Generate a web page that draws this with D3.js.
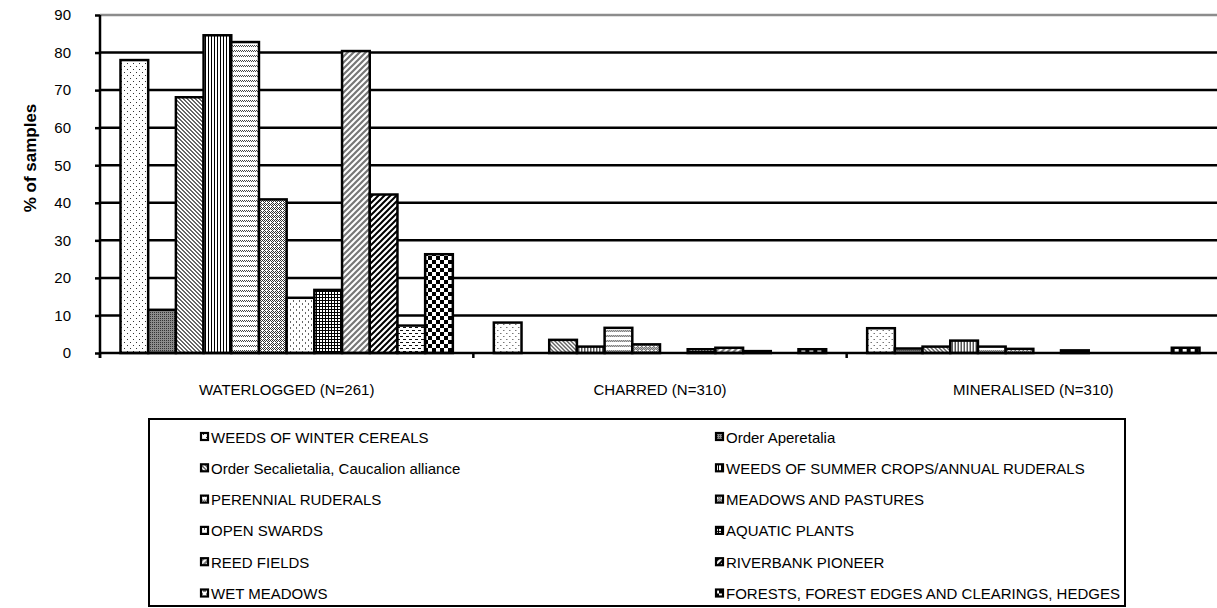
<!DOCTYPE html>
<html>
<head>
<meta charset="utf-8">
<script src="https://cdn.jsdelivr.net/npm/d3@7/dist/d3.min.js"></script>
<style>
  html, body { margin: 0; padding: 0; background: #fff; }
  svg { display: block; }
  text { font-family: "Liberation Sans", Arial, sans-serif; fill: #000; }
</style>
</head>
<body>
<svg id="chart" width="1217" height="608"></svg>
<script>
// Sample types (x categories)
const categories = ["WATERLOGGED (N=261)", "CHARRED (N=310)", "MINERALISED (N=310)"];

// Ecological groups (one bar per group in each category)
const seriesNames = [
  "WEEDS OF WINTER CEREALS",
  "Order Aperetalia",
  "Order Secalietalia, Caucalion alliance",
  "WEEDS OF SUMMER CROPS/ANNUAL RUDERALS",
  "PERENNIAL RUDERALS",
  "MEADOWS AND PASTURES",
  "OPEN SWARDS",
  "AQUATIC PLANTS",
  "REED FIELDS",
  "RIVERBANK PIONEER",
  "WET MEADOWS",
  "FORESTS, FOREST EDGES AND CLEARINGS, HEDGES"
];

// % of samples, per sample type, in the order of seriesNames
const waterlogged = [78.0, 11.5, 68.1, 84.6, 82.8, 40.9, 14.7, 16.8, 80.4, 42.2, 7.3, 26.3];
const charred     = [8.1, 0, 3.5, 1.7, 6.7, 2.3, 0, 1.0, 1.4, 0.5, 0, 1.0];
const mineralised = [6.6, 1.2, 1.7, 3.3, 1.7, 1.1, 0, 0.7, 0, 0, 0, 1.4];

const yTicks = [0, 10, 20, 30, 40, 50, 60, 70, 80, 90];

const values = [waterlogged, charred, mineralised];

const svg = d3.select("#chart");
const defs = svg.append("defs");

// ---- fill patterns (one per ecological group) ----
function pattern(id, w, h, bg, draw) {
  const p = defs.append("pattern")
    .attr("id", id).attr("patternUnits", "userSpaceOnUse")
    .attr("width", w).attr("height", h);
  p.append("rect").attr("width", w).attr("height", h).attr("fill", bg);
  draw(p);
}
function px(p, pts, color) {
  pts.forEach(([x, y, w, h]) => p.append("rect")
    .attr("x", x).attr("y", y).attr("width", w || 1).attr("height", h || 1)
    .attr("fill", color || "#000"));
}
const patternDefs = [
  // sparse dots
  () => pattern("pat0", 6, 6, "#fff", q => px(q, [[0, 0], [3, 3]], "#333")),
  // dark grey fine
  () => pattern("pat1", 2, 2, "#8c8c8c", q => px(q, [[0, 0]], "#333")),
  // fine diagonal hatch
  () => pattern("pat2", 4, 4, "#fff", q => px(q, [[0, 0], [1, 1], [2, 2], [3, 3], [1, 0], [2, 1], [3, 2], [0, 3]], "#666")),
  // vertical lines
  () => pattern("pat3", 3, 3, "#fff", q => px(q, [[0, 0, 1, 3]])),
  // wavy horizontal rows
  () => pattern("pat4", 4, 5, "#fff", q => px(q, [[0, 0], [2, 0], [1, 1], [3, 1]], "#444")),
  // fine checker
  () => pattern("pat5", 4, 4, "#fff", q => px(q, [[0, 0], [2, 0], [1, 1], [3, 1], [0, 2], [1, 3], [3, 3]], "#333")),
  // spaced grey dots
  () => pattern("pat6", 6, 6, "#fff", q => px(q, [[1, 0, 1, 2], [4, 3, 1, 2]], "#666")),
  // small grid
  () => pattern("pat7", 3, 3, "#fff", q => px(q, [[0, 0, 3, 1], [0, 0, 1, 3]])),
  // wide grey diagonals
  () => pattern("pat8", 6, 6, "#fff", q => {
    q.append("path").attr("d", "M-1,7 L7,-1 M-4,4 L4,-4 M2,10 L10,2")
      .attr("stroke", "#777").attr("stroke-width", 2.2);
  }),
  // bold diagonals
  () => pattern("pat9", 6, 6, "#fff", q => {
    q.append("path").attr("d", "M-1,7 L7,-1 M-4,4 L4,-4 M2,10 L10,2")
      .attr("stroke", "#000").attr("stroke-width", 2);
  }),
  // horizontal dashes
  () => pattern("pat10", 6, 6, "#fff", q => px(q, [[0, 0, 3, 1], [3, 3, 3, 1]], "#111")),
  // large checkerboard
  () => pattern("pat11", 8, 8, "#fff", q => px(q, [[0, 0, 4, 4], [4, 4, 4, 4]]))
];
patternDefs.forEach(f => f());
const fillOf = i => `url(#pat${i})`;

// ---- scales ----
const plotLeft = 100, plotRight = 1220, plotTop = 15, plotBottom = 353;

const x0 = d3.scaleBand().domain(categories).range([plotLeft, plotRight]).padding(0);
const x1 = d3.scaleBand().domain(d3.range(seriesNames.length))
  .range([0, x0.bandwidth()]).paddingInner(0).paddingOuter(0.74);
const y = d3.scaleLinear().domain([0, 90]).range([plotBottom, plotTop]);

// ---- gridlines ----
svg.append("g").selectAll("line").data(yTicks.filter(t => t > 0)).join("line")
  .attr("x1", plotLeft).attr("x2", 1217)
  .attr("y1", d => y(d)).attr("y2", d => y(d))
  .attr("stroke", d => d === 90 ? "#8c8c8c" : "#000")
  .attr("stroke-width", 2.5);

// ---- bars ----
const groups = svg.append("g").selectAll("g").data(categories).join("g")
  .attr("transform", d => `translate(${x0(d)},0)`);
groups.selectAll("rect")
  .data((c, ci) => values[ci].map((v, i) => ({ v, i })).filter(d => d.v > 0))
  .join("rect")
  .attr("x", d => x1(d.i))
  .attr("y", d => y(d.v))
  .attr("width", x1.bandwidth())
  .attr("height", d => y(0) - y(d.v))
  .attr("fill", d => fillOf(d.i))
  .attr("stroke", "#000").attr("stroke-width", 2.5);

// ---- y axis ----
const yAxis = svg.append("g").attr("transform", `translate(${plotLeft},0)`)
  .call(d3.axisLeft(y).tickValues(yTicks).tickSize(5).tickPadding(24).tickFormat(d3.format("d")));
yAxis.select(".domain").attr("stroke", "#000").attr("stroke-width", 2.5)
  .attr("d", `M0,${plotTop}V${plotBottom + 5}`);
yAxis.selectAll(".tick line").attr("stroke", "#000").attr("stroke-width", 2.5);
yAxis.selectAll(".tick text").attr("font-size", 15).attr("font-family", "Liberation Sans, Arial, sans-serif");

// ---- x axis ----
const xAxis = svg.append("g").attr("transform", `translate(0,${plotBottom})`);
xAxis.append("line").attr("x1", plotLeft).attr("x2", 1217)
  .attr("stroke", "#000").attr("stroke-width", 2.5);
xAxis.selectAll("line.tk").data(categories.concat(["end"])).join("line").attr("class", "tk")
  .attr("x1", (d, i) => plotLeft + i * x0.step())
  .attr("x2", (d, i) => plotLeft + i * x0.step())
  .attr("y1", 0).attr("y2", 5)
  .attr("stroke", "#000").attr("stroke-width", 2.5);
xAxis.selectAll("text").data(categories).join("text")
  .attr("x", d => x0(d) + x0.bandwidth() / 2)
  .attr("y", 42)
  .attr("text-anchor", "middle")
  .attr("font-size", 15)
  .text(d => d);

// ---- y title ----
svg.append("text")
  .attr("transform", "translate(36,158) rotate(-90)")
  .attr("text-anchor", "middle")
  .attr("font-size", 17).attr("font-weight", "bold")
  .text("% of samples");

// ---- legend ----
const legend = svg.append("g");
legend.append("rect")
  .attr("x", 149).attr("y", 419).attr("width", 976).attr("height", 187)
  .attr("fill", "#fff").attr("stroke", "#000").attr("stroke-width", 2);
const legendCols = [200, 715];
const item = legend.selectAll("g.item").data(seriesNames).join("g").attr("class", "item")
  .attr("transform", (d, i) => `translate(${legendCols[i % 2]},${437 + Math.floor(i / 2) * 31.3})`);
item.append("rect")
  .attr("x", 1).attr("y", -4).attr("width", 7).attr("height", 7)
  .attr("fill", (d, i) => fillOf(i))
  .attr("stroke", "#000").attr("stroke-width", 2.2);
item.append("text")
  .attr("x", 11).attr("y", 5.5)
  .attr("font-size", 15)
  .text(d => d);
</script>
</body>
</html>
